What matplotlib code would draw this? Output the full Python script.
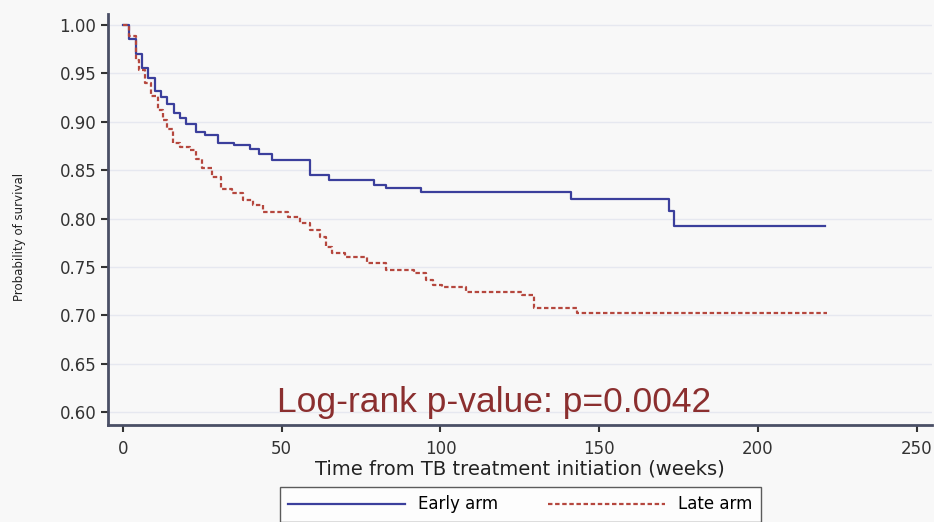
import matplotlib.pyplot as plt
import numpy as np

# Kaplan-Meier curves
early_t = [0, 2, 4, 6, 8, 10, 12, 14, 16, 18, 20, 23, 26, 30, 35, 40, 43, 47,
           59, 65, 79, 83, 94, 141, 172, 173.5, 221]
early_s = [1.00, 0.985, 0.970, 0.955, 0.945, 0.932, 0.925, 0.918, 0.909, 0.904,
           0.898, 0.889, 0.886, 0.878, 0.876, 0.872, 0.867, 0.860, 0.845, 0.840,
           0.835, 0.832, 0.827, 0.820, 0.808, 0.792, 0.792]

late_t = [0, 2, 4, 5, 7, 9, 11, 12.5, 14, 15.7, 18, 21, 23, 25, 28, 31, 34.5,
          37.7, 41, 44, 52, 55.7, 58.8, 62, 64, 66, 70, 77, 83, 91.8, 95.6,
          97.5, 100.6, 108, 125.8, 129.6, 143, 221.7]
late_s = [1.00, 0.988, 0.964, 0.953, 0.940, 0.926, 0.912, 0.902, 0.892, 0.878,
          0.874, 0.871, 0.861, 0.852, 0.843, 0.830, 0.826, 0.819, 0.814, 0.807,
          0.802, 0.795, 0.788, 0.781, 0.771, 0.764, 0.760, 0.754, 0.747, 0.744,
          0.737, 0.731, 0.729, 0.724, 0.721, 0.708, 0.703, 0.703]

series_labels = ['Early arm', 'Late arm']
x_ticks = [0, 50, 100, 150, 200, 250]
y_ticks = [0.60, 0.65, 0.70, 0.75, 0.80, 0.85, 0.90, 0.95, 1.00]

bg = '#f8f8f8'
fig = plt.figure(figsize=(9.34, 5.22), dpi=100, facecolor=bg)
ax = fig.add_axes([0.1156, 0.186, 0.882, 0.787], facecolor=bg)

for y in y_ticks:
    ax.axhline(y, color='#e6e8f0', lw=1, zorder=0)

ax.step(early_t, early_s, where='post', color='#3b3f9c', lw=1.6, label=series_labels[0])
ax.step(late_t, late_s, where='post', color='#b5473e', lw=1.6, ls=(0, (2, 1.2)),
        label=series_labels[1])

ax.set_xlim(-4.7, 254.7)
ax.set_ylim(0.587, 1.011)
ax.set_xticks(x_ticks)
ax.set_yticks(y_ticks)
ax.set_yticklabels(['%.2f' % v for v in y_ticks])
ax.tick_params(axis='both', labelsize=12, colors='#333333', length=5, width=1.5)
ax.tick_params(axis='x', pad=6)

for s in ['top', 'right']:
    ax.spines[s].set_visible(False)
for s in ['left', 'bottom']:
    ax.spines[s].set_color('#4a4f66')
    ax.spines[s].set_linewidth(2)

ax.set_ylabel('Probability of survival', fontsize=8.5, color='#222222')
ax.yaxis.set_label_coords(-0.1, 0.457)
ax.set_xlabel('Time from TB treatment initiation (weeks)', fontsize=14,
              color='#222222')
ax.xaxis.set_label_coords(0.5, -0.085)

ax.text(117, 0.61, 'Log-rank p-value: p=0.0042', fontsize=25.5, color='#8b2f2f',
        ha='center', va='center', family='Liberation Sans')

fig.legend(loc='upper center', bbox_to_anchor=(0.557, 0.067), ncol=2,
           fontsize=12, handlelength=7, columnspacing=3, frameon=True,
           fancybox=False, edgecolor='#333333', facecolor='white',
           borderpad=0.5, borderaxespad=0)

fig.savefig('out.png', dpi=100, facecolor=bg)
